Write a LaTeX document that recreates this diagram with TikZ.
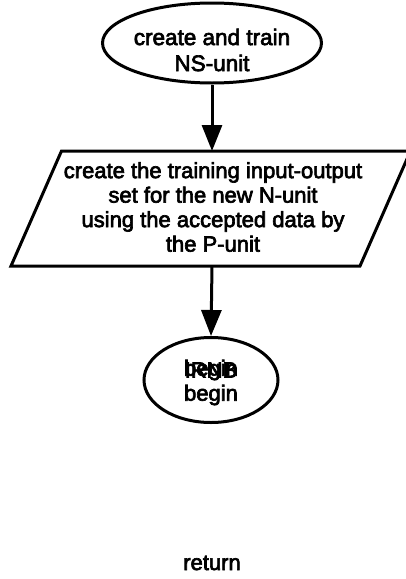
\documentclass[tikz,border=0pt]{standalone}
\usepackage{fontspec}
\setmainfont{Liberation Sans}[FakeBold=3]
\usetikzlibrary{arrows.meta,shapes.geometric}
\begin{document}
\begin{tikzpicture}[x=1pt,y=-1pt,
  line width=3pt,
  txt/.style={font=\fontsize{22}{24.5}\selectfont,align=center,inner sep=0pt},
  oval/.style={draw,ellipse,inner sep=0pt},
  flow/.style={-{Triangle[length=26pt,width=20pt]}}]
\useasboundingbox (0,0) rectangle (406,579);
\clip (0,0) rectangle (406,579);
% start oval
\node[oval,minimum width=219pt,minimum height=80pt] (e1) at (212,43) {};
\node[txt,font=\fontsize{22.5}{26}\selectfont] (t1) at (212,50) {create and train\\NS-unit};
% parallelogram
\coordinate (pTL) at (61.5,151);
\coordinate (pTR) at (410.5,151);
\coordinate (pBR) at (360,266);
\coordinate (pBL) at (11,266);
\draw[line join=miter] (pTL) -- (pTR) -- (pBR) -- (pBL) -- cycle;
\coordinate (pTop) at (212,151);
\coordinate (pBot) at (212,266);
\node[txt] (t2) at (213,207) {create the training input-output\\set for the new N-unit\\using the accepted data by\\the P-unit};
% second oval
\node[oval,minimum width=134pt,minimum height=85pt] (e2) at (211,380) {};
\node[txt] (t3a) at (211,370) {begin};
\node[txt] (t3b) at (211,370) {IRNB};
\node[txt] (t3c) at (211,395) {begin};
% return
\node[txt] (t4) at (212,563) {return};
% connectors
\draw[flow] (e1.south) -- (pTop);
\draw[flow] (pBot) -- (e2.north);
\end{tikzpicture}
\end{document}
